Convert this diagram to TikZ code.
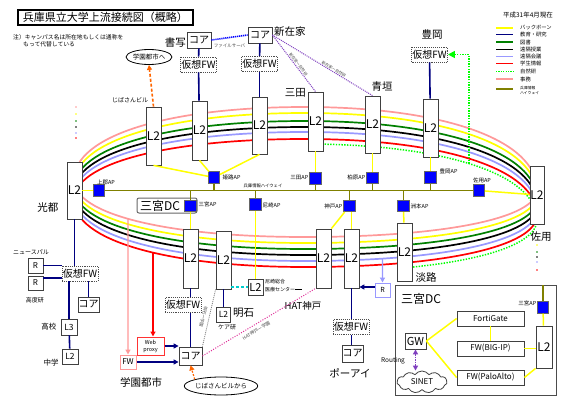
\documentclass[tikz,border=0pt]{standalone}
\usepackage{fontspec}
\setmainfont{Noto Sans CJK JP}
\usetikzlibrary{arrows.meta,shapes.geometric,shapes.symbols,intersections}
\definecolor{cpink}{HTML}{FF9999}
\definecolor{cyel}{HTML}{FFFF00}
\definecolor{cgreen}{HTML}{008000}
\definecolor{clav}{HTML}{9999FF}
\definecolor{cred}{HTML}{FF0000}
\definecolor{cnavy}{HTML}{000080}
\definecolor{colive}{HTML}{808000}
\definecolor{clime}{HTML}{00FF00}
\definecolor{corange}{HTML}{FF6600}
\definecolor{cpurple}{HTML}{7F3FBF}
\definecolor{cmag}{HTML}{E0309A}
\definecolor{ccyan}{HTML}{00CCCC}
\definecolor{capblue}{HTML}{0000FF}
\begin{document}
\begin{tikzpicture}[x=1pt,y=-1pt,
 fs/.style={font=\fontsize{#1}{#1}\selectfont},
 l2/.style={draw=black!75, fill=white, line width=0.8pt, inner sep=0pt, minimum width=15pt, fs=12},
 bx/.style={draw=black!75, fill=white, line width=0.8pt, inner sep=0pt},
 vfw/.style={draw=black!70, densely dotted, fill=white, line width=0.9pt, inner sep=0pt, minimum width=36pt, minimum height=15pt, fs=10},
 core/.style={bx, minimum width=24pt, minimum height=16pt, fs=10},
 ap/.style={fill=capblue, draw=black!60, line width=0.6pt, minimum size=11.5pt, inner sep=0pt},
 apl/.style={fs=5.5, inner sep=0.5pt},
 lbl/.style={fs=10.5, inner sep=0pt},
 navyl/.style={cnavy, line width=1.6pt},
 yell/.style={cyel, line width=1.5pt},
 olivel/.style={colive, line width=1.6pt},
 ring/.style={line width=1.7pt},
 tip/.style={-{Triangle[length=5pt,width=5pt]}}
]
\useasboundingbox (0,0) rectangle (563,396);
\fill[white] (0,0) rectangle (563,396);

% ---------- ring ----------
\foreach \c/\a/\b/\r/\d/\nm in {cpink/180/107/190/237/rp, cyel/184/113/195/243/ry, cgreen/188/121/200/249/rg, black/192/127/205/255/rk, clav/196/132/210/261/rl, cred/200/139/215/267/rr}{
  \draw[ring,\c,name path global=\nm] (74,\a) .. controls (74,{\a-0.6*(\a-\b)}) and (166.4,\b) .. (305,\b) .. controls (444.2,\b) and (537,{\r-0.6*(\r-\b)}) .. (537,\r) .. controls (537,{\r+0.6*(\d-\r)}) and (444.2,\d) .. (305,\d) .. controls (166.4,\d) and (74,{\a+0.6*(\d-\a)}) .. cycle;
}
\begin{scope}
\clip (323,0) rectangle (563,200) (412,200) rectangle (563,396);
\draw[clime, line width=1.5pt, dash pattern=on 1.4pt off 1.4pt, name path global=rgd] (305,144) .. controls (444.2,144) and (537,{220-0.6*76}) .. (537,220) .. controls (537,{220+0.6*52}) and (444.2,272) .. (305,272);
\end{scope}

% continuation dots
\foreach \y/\c in {107/cpink,114/cyel,121/cgreen,127/black,133/clav,138/cred}{\fill[\c] (76,\y) circle (0.9pt);}
\foreach \y/\c in {245/cyel,252/cgreen,257/black,262/clav,270/cred}{\fill[\c] (537,\y) circle (0.9pt);}

% ---------- title / notes ----------
\node[draw, line width=1.3pt, minimum width=175pt, minimum height=15pt, inner sep=0pt, fs=11] (title) at (105.5,17.5) {兵庫県立大学上流接続図（概略）};
\node[font=\fontsize{5.8}{7.2}\selectfont, align=left, anchor=north west, inner sep=0pt] (note) at (13,34.5) {注）キャンパス名は所在地もしくは通称を\\\hspace{10pt}もって代替している};
\node[draw, ellipse, line width=0.8pt, minimum width=42pt, minimum height=15pt, inner sep=0pt, fs=6.5] (gkhe) at (149,57) {学園都市へ};
\node[fs=6, inner sep=0pt] (jbl) at (130,100) {じばさんビル};

% ---------- legend ----------
\node[fs=6.5] (date) at (528,15) {平成31年4月現在};
\foreach \y/\c/\t [count=\i] in {28/cyel/バックボーン, 34.5/cnavy/教育・研究, 42/cgreen/図書, 49.5/black/遠隔授業, 56.5/clav/遠隔会議, 63.5/cred/学生情報, 79/cpink/事務}{
  \draw[\c, line width=1.8pt] (496,\y) -- (513,\y);
  \node[fs=5.3, anchor=west, inner sep=0pt] (lg\i) at (520,\y) {\t};
}
\draw[clime, line width=1.8pt, dash pattern=on 1.2pt off 1.2pt] (496,71.5) -- (513,71.5);
\node[fs=5.3, anchor=west, inner sep=0pt] (lgs) at (520,71.5) {自然研};
\draw[colive, line width=1.8pt] (496,89) -- (513,89);
\node[font=\fontsize{3.8}{5}\selectfont, anchor=west, align=left, inner sep=0pt] (lgh) at (520,90) {兵庫情報\\ハイウェイ};

% ---------- top cores / FWs ----------
\node[core] (score) at (199,40) {コア};
\node[lbl, anchor=east] (sl) at (186,43) {書写};
\node[vfw] (sfw) at (198.5,64.5) {仮想FW};
\node[core] (ncore) at (260,35) {コア};
\node[lbl, anchor=west] (nl) at (274,32) {新在家};
\node[vfw] (nfw) at (259.5,64) {仮想FW};
\node[vfw] (tfw) at (429.5,54.5) {仮想FW};
\node[lbl] (tl) at (432,35) {豊岡};

% ---------- ring L2 switches ----------
\node[l2, minimum height=58pt] (jb) at (153.5,136) {L2};
\node[l2, minimum height=59pt] (ss) at (199.5,130.5) {L2};
\node[l2, minimum height=57pt] (sz) at (259.5,125.5) {L2};
\node[l2, minimum height=59pt] (sd) at (315.5,121.5) {L2};
\node[l2, minimum height=57pt] (ag) at (372.5,124.5) {L2};
\node[l2, minimum height=58pt] (to) at (430.5,128) {L2};
\node[l2, minimum height=58pt, minimum width=14pt] (sy) at (537,195) {L2};
\node[l2, minimum height=57pt] (kt) at (74.5,190.5) {L2};
\node[l2, minimum height=59pt] (b1) at (190.5,258.5) {L2};
\node[l2, minimum height=58pt] (b2) at (223.5,260) {L2};
\node[l2, minimum height=59pt] (hat) at (323.5,258.5) {L2};
\node[l2, minimum height=59pt] (pa) at (351.5,258.5) {L2};
\node[l2, minimum height=58pt] (aw) at (404.5,252) {L2};

\node[lbl, anchor=east] (sdl) at (306,93) {三田};
\node[lbl] (agl) at (382,87) {青垣};
\node[lbl] (ktl) at (48,208) {光都};
\node[lbl] (syl) at (541,237) {佐用};
\node[lbl] (awl) at (426,278) {淡路};

% ---------- APs ----------
\node[ap] (a1) at (99,190.5) {};
\node[ap] (a2) at (214,177.5) {};
\node[ap] (a3) at (315.5,178.5) {};
\node[ap] (a4) at (372.5,178) {};
\node[ap] (a5) at (430.5,177.5) {};
\node[ap] (a6) at (479,190.5) {};
\node[draw=black!60, fill=white, rounded corners=2pt, line width=1pt, minimum width=60pt, minimum height=15pt, text width=54pt, align=left, inner xsep=3pt, inner ysep=0pt, fs=12] (dcl) at (167,205.5) {三宮DC};
\node[ap] (a7) at (190.5,206) {};
\node[ap] (a8) at (255.5,204.5) {};
\node[ap] (a9) at (349.5,206) {};
\node[ap] (a10) at (403.5,206) {};

\node[apl] (a1l) at (106,182) {上郡AP};
\node[apl, anchor=west] (a2l) at (222,177.5) {姫路AP};
\node[apl, anchor=east] (a3l) at (309,178) {三田AP};
\node[apl, anchor=east] (a4l) at (366,177) {柏原AP};
\node[apl, anchor=west] (a5l) at (439,171) {豊岡AP};
\node[apl] (a6l) at (482,180) {佐用AP};
\node[apl, anchor=west] (a7l) at (198,204) {三宮AP};
\node[apl, anchor=west] (a8l) at (262,205) {尼崎AP};
\node[apl, anchor=east] (a9l) at (343,206) {神戸AP};
\node[apl, anchor=west] (a10l) at (410,206) {洲本AP};
\node[fs=4.3, inner sep=0pt] (hwl) at (263,186) {兵庫情報ハイウェイ};

% highway
\draw[olivel] (a1) -- (a6);
\foreach \n in {a2,a3,a4,a5}{\draw[colive, line width=1.4pt] (\n.south) -- (\n |- a1);}
\foreach \n in {a7,a8,a9,a10}{\draw[colive, line width=1.4pt] (\n.north) -- (\n |- a1);}

% ---------- lower nodes ----------
\node[vfw] (kfw) at (80,273.5) {仮想FW};
\node[bx, minimum width=15pt, minimum height=15pt, fs=8] (r1) at (35.5,265.5) {R};
\node[bx, minimum width=15pt, minimum height=14pt, fs=8] (r2) at (35.5,283) {R};
\node[core, minimum width=21pt, minimum height=15pt] (kcore) at (88.5,304.5) {コア};
\node[bx, minimum width=16pt, minimum height=16pt, fs=8.5] (l3) at (69,327) {L3};
\node[bx, minimum width=16pt, minimum height=15pt, fs=8.5] (jh) at (70,356.5) {L2};
\node[fs=6, inner sep=0pt] (nsp) at (31,252) {ニュースパル};
\node[fs=6, inner sep=0pt] (kdk) at (35,300) {高度研};
\node[fs=7.5, inner sep=0pt] (kk) at (49,327) {高校};
\node[fs=7.5, inner sep=0pt] (cg) at (51,363) {中学};

\node[draw=cpink, fill=white, line width=1pt, inner sep=0pt, minimum width=16pt, minimum height=14pt, fs=8] (pfw) at (128,362) {FW};
\node[draw=cred!80, fill=white, line width=1pt, inner sep=0pt, minimum width=27pt, minimum height=18pt, align=center, font=\fontsize{5.5}{7}\selectfont] (wp) at (150.5,346) {Web\\proxy};
\node[vfw] (gfw) at (183,305) {仮想FW};
\node[core, minimum width=23pt, minimum height=18pt] (gcore) at (190.5,356) {コア};
\node[lbl] (gkl) at (141,382) {学園都市};
\node[draw, ellipse, line width=0.8pt, minimum width=58pt, minimum height=18pt, inner sep=0pt, fs=6.5] (jk) at (221,386) {じばさんビルから};

\node[bx, minimum width=14pt, minimum height=15pt, fs=8.5] (ak) at (223.5,314.5) {L2};
\node[lbl, anchor=west] (akl) at (233,313) {明石};
\node[fs=6, inner sep=0pt] (care) at (227,327) {ケア研};
\node[bx, minimum width=15pt, minimum height=16pt, fs=11] (am) at (255.5,287) {L2};
\node[font=\fontsize{5}{7.5}\selectfont, anchor=west, align=left, inner sep=0pt] (aml) at (265,285.5) {尼崎総合\\医療センター};
\node[fs=9.5, inner sep=0pt] (hatl) at (303,306) {HAT神戸};

\node[vfw] (pfw2) at (351,327) {仮想FW};
\node[core, minimum width=21pt, minimum height=17pt] (pcore) at (352.5,353.5) {コア};
\node[lbl] (pal) at (350,373) {ポーアイ};
\node[draw=clav, fill=white, line width=1pt, inner sep=0pt, minimum width=15pt, minimum height=14pt, fs=7] (lr) at (382.5,290) {R};

% ---------- 三宮DC detail ----------
\node[draw=black!70, line width=1pt, minimum width=161pt, minimum height=110pt, inner sep=0pt, anchor=north west] (dcb) at (395,285) {};
\node[fs=12, anchor=west, inner sep=0pt] (dct) at (401,299) {三宮DC};
\node[ap] (dcap) at (543,307.5) {};
\node[apl, anchor=east] (dcapl) at (537,303) {三宮AP};
\node[bx, minimum width=67pt, minimum height=15pt, fs=8] (fg) at (490.5,318.5) {FortiGate};
\node[bx, minimum width=67pt, minimum height=15pt, fs=8] (bi) at (490.5,348.5) {FW(BIG-IP)};
\node[bx, minimum width=67pt, minimum height=15pt, fs=8] (pal2) at (490.5,377.5) {FW(PaloAlto)};
\node[bx, minimum width=21pt, minimum height=16pt, fs=11] (gw) at (415.5,341) {GW};
\node[l2, minimum height=42pt, minimum width=16pt] (dl2) at (544,347) {L2};
\node[cloud, draw=black!75, fill=white, line width=0.8pt, cloud puffs=11, cloud puff arc=110, aspect=2.6, minimum width=50pt, minimum height=22pt, inner sep=0pt, fs=8] (sn) at (422,382) {SINET};
\node[fs=6.5, inner sep=0pt] (rt) at (393,361) {Routing};

% ---------- yellow AP links ----------
\draw[yell] (a1) -- (kt);
\draw[yell] (jb.south) -- (a2);
\draw[yell] (ss.south) -- (a2);
\draw[yell] (sz.south) -- (a2);
\draw[yell] (sd) -- (a3);
\draw[yell] (ag) -- (a4);
\draw[yell] (to) -- (a5);
\draw[yell] (a6) -- (sy);
\draw[yell] (a7) -- (b1);
\draw[yell] (a8) -- (am);
\draw[yell] (a9) -- (hat.north east);
\draw[yell] (a9.south -| pa) -- (pa.north);
\draw[yell] (a10) -- (aw);
\draw[yell] (dcap) -- (dl2);
\draw[yell] (gw.east) -- (fg.west);
\draw[yell] (gw.east) -- (pal2.west);
\draw[yell] (fg) -- (bi);
\draw[yell] (bi.east) -- (bi.east -| dl2.west);
\draw[yell] (pal2.east) -- (dl2.south west);
\draw[olivel] (dcap.north) -- (dcap.north |- dcb.north);

% ---------- navy links ----------
\draw[navyl] (score) -- (sfw);
\draw[navyl] (sfw) -- (ss);
\draw[navyl] (ncore) -- (nfw);
\draw[navyl] (nfw) -- (sz);
\draw[navyl] (tfw) -- (to);
\draw[navyl] (kt.south) -- (kt.south |- kfw.north);
\draw[navyl] (r1.east) -- (r1.east -| kfw.west);
\draw[navyl] (r2.east |- 0,278) -- (kfw.west |- 0,278);
\draw[navyl] (kcore.north) -- (kcore.north |- kfw.south);
\draw[navyl] (l3.north) -- (l3.north |- kfw.south);
\draw[navyl] (l3) -- (jh);
\draw[navyl] (b1) -- (b1 |- gfw.north);
\draw[navyl] (b1 |- gfw.south) -- (gcore);
\draw[navyl] (b2) -- (ak);
\draw[navyl] (pa) -- (pa |- pfw2.north);
\draw[navyl] (pa |- pfw2.south) -- (pa |- pcore.north);
\draw[navyl, tip] (wp.east) -- (wp.east -| gcore.west);
\draw[navyl, tip] (pfw.east) -- (pfw.east -| gcore.west);
\draw[navyl, tip] (lr.west |- 0,287) -- (pa.east |- 0,287);

% ---------- coloured drops from the ring ----------
\path[name path=vp] (128,200) -- (128,300);
\path[name intersections={of=rp and vp, by=ppk}];
\draw[cpink, line width=1.4pt, tip] (ppk) -- (pfw.north);
\path[name path=vr] (153,200) -- (153,330);
\path[name intersections={of=rr and vr, by=prd}];
\draw[cred, line width=1.4pt, tip] (prd) -- (prd |- wp.north);
\path[name path=vl] (382.5,200) -- (382.5,285);
\path[name intersections={of=rl and vl, by=plv}];
\draw[clav, line width=1.4pt, tip] (plv) -- (lr.north);
\path[name path=vg] (469,100) -- (469,190);
\path[name intersections={of=rgd and vg, by=pgd}];
\draw[clime, line width=1.6pt, dash pattern=on 1.4pt off 1.2pt, -{Triangle[length=7pt,width=7pt]}] (pgd) |- (tfw.east);

% ---------- other connectors ----------
\draw[corange, line width=1.6pt, dash pattern=on 3pt off 2pt, tip] (jb.north) -- (gkhe.south);
\draw[corange, line width=1.2pt, dash pattern=on 2pt off 1.5pt, tip] (jk.north west) -- (gcore.south);
\draw[capblue, line width=1.6pt, dash pattern=on 1.2pt off 0.8pt] (score.east) -- (ncore.west) node[midway, below=2pt, fs=4.5, text=black!70] {ファイルサーバ};
\draw[cpurple, line width=1pt, dash pattern=on 1pt off 1pt] (ncore.east) -- (sd.north) node[pos=0.55, sloped, above=0pt, fs=3.9, inner sep=0.5pt, text=black!70] {新在家ー自然研};
\draw[cpurple, line width=1pt, dash pattern=on 1pt off 1pt] (ncore.east) -- (ag.north) node[pos=0.6, sloped, above=0pt, fs=3.9, inner sep=0.5pt, text=black!70] {新在家ー自然研};
\draw[ccyan, line width=1.5pt, dash pattern=on 3pt off 2pt] (b2.east |- am) -- (am.west);
\draw[black, line width=0.9pt] (aml.east |- 0,289.5) -- ++(7,0);
\draw[cmag, line width=1pt, dash pattern=on 1pt off 1.5pt] (gcore.east) -- (hat.south west) node[pos=0.45, sloped, below, fs=4.5, text=black!70] {HAT神戸ー学園};
\draw[gray, line width=0.8pt, dash pattern=on 1pt off 1pt] (b2.south west) -- (gcore.north east) node[midway, sloped, allow upside down, below, fs=4.2, text=black!70] {明石ー学園};
\draw[cpurple, line width=1.6pt, dash pattern=on 1.5pt off 1pt, {Triangle[length=5pt,width=5pt]}-{Triangle[length=5pt,width=5pt]}] (gw.south) -- (gw.south |- sn.north);
\end{tikzpicture}
\end{document}
